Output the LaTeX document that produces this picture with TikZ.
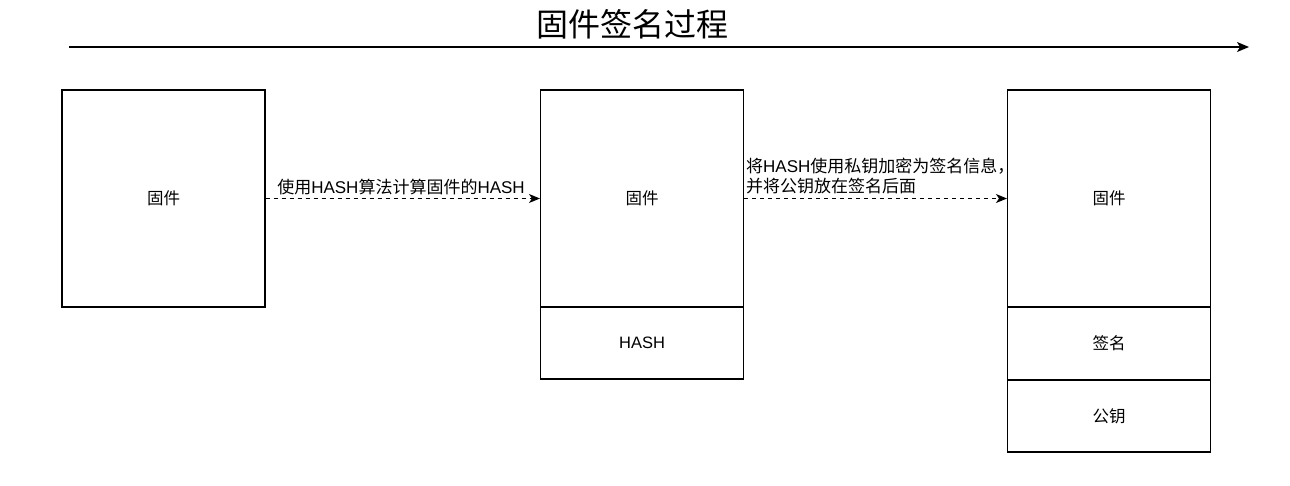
\documentclass[tikz,border=0pt]{standalone}
\usepackage{fontspec}
\setmainfont{Noto Sans CJK SC}
\newfontfamily\lat{Liberation Sans}
\newcommand{\hs}{{\lat HASH}}
\usetikzlibrary{arrows.meta}
\begin{document}
\begin{tikzpicture}[x=1pt,y=-1pt,
  box/.style={draw=black, line width=1.1pt, fill=white, minimum width=203pt, inner sep=0pt, font=\fontsize{16.5}{19}\selectfont},
  flow/.style={draw=black, line width=1pt, dash pattern=on 4pt off 4pt, -{Stealth[length=11pt,width=9pt,inset=3pt]}},
  lbl/.style={font=\fontsize{17}{20}\selectfont, inner sep=0pt}
]
\useasboundingbox (0,0) rectangle (1290,485);
% title
\node[font=\fontsize{32}{34}\selectfont, inner sep=0pt] (title) at (632,24) {固件签名过程};
\coordinate (ts) at (69,47);
\coordinate (te) at (1249,47);
\draw[line width=1.2pt, -{Stealth[length=12pt,width=10pt,inset=3pt]}] (ts) -- (te);
% boxes
\node[box, minimum height=217pt] (f1) at (163.5,198.5) {固件};
\node[box, minimum height=217pt] (f2) at (642,198.5) {固件};
\node[box, minimum height=72pt] (h2) at (642,343) {\hs};
\node[box, minimum height=217pt] (f3) at (1109,198.5) {固件};
\node[box, minimum height=73pt] (s3) at (1109,343.5) {签名};
\node[box, minimum height=72pt] (k3) at (1109,416) {公钥};
% connectors
\draw[flow] (f1.east) -- (f2.west);
\draw[flow] (f2.east) -- (f3.west);
\node[lbl] (l1) at (401,187) {使用\hs 算法计算固件的\hs};
\node[lbl, anchor=west, align=left] (l2) at (746,176.5) {将\hs 使用私钥加密为签名信息，\\并将公钥放在签名后面};
\end{tikzpicture}
\end{document}
